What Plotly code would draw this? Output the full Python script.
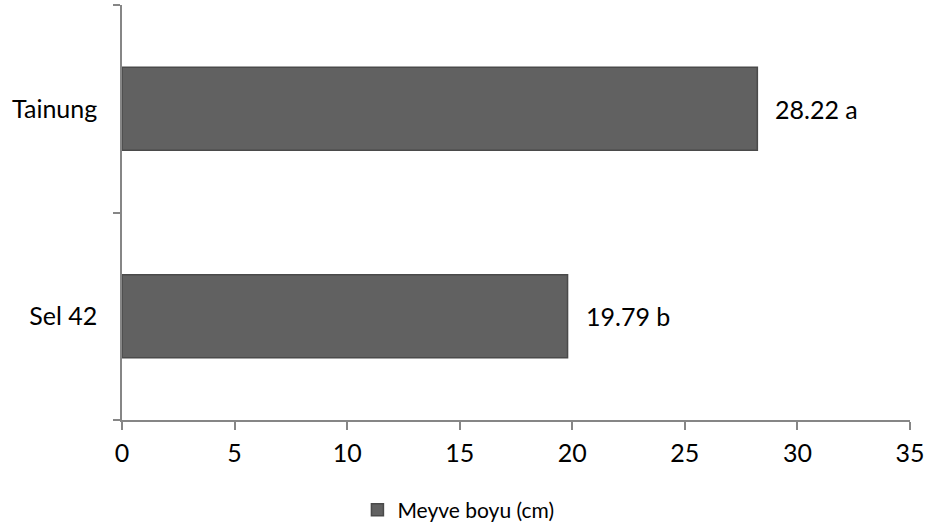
import plotly.graph_objects as go

# Fruit length by cultivar
cultivars = ["Sel 42", "Tainung"]
fruit_length = [19.79, 28.22]
groups = ["b", "a"]
x_ticks = [0, 5, 10, 15, 20, 25, 30, 35]
series_name = "Meyve boyu (cm)"

FONT = "Lato"
FSIZE = 25
AXIS_GREY = "#868686"

fig = go.Figure()
fig.add_trace(go.Bar(
    y=cultivars,
    x=fruit_length,
    orientation="h",
    name=series_name,
    marker=dict(color="#616161", line=dict(color="#4a4a4a", width=1.5)),
    showlegend=True,
))

for c, v, g in zip(cultivars, fruit_length, groups):
    fig.add_annotation(
        x=v, y=c, text=f"{v:.2f} {g}", showarrow=False,
        xanchor="left", xshift=16,
        font=dict(family=FONT, size=FSIZE, color="#000000"),
    )

fig.update_layout(
    width=928, height=528,
    margin=dict(l=122, r=18, t=5, b=108, autoexpand=False),
    plot_bgcolor="white", paper_bgcolor="white",
    bargap=0.6,
    font=dict(family=FONT, size=FSIZE, color="#000000"),
    showlegend=True,
    legend=dict(
        orientation="h", xref="container", x=0.494, xanchor="center",
        yref="container", y=0.034, yanchor="middle",
        font=dict(family=FONT, size=21, color="#000000"),
        itemwidth=30,
    ),
    xaxis=dict(
        range=[0, 35], tickvals=x_ticks, ticks="outside", ticklen=8,
        tickcolor=AXIS_GREY, tickwidth=1.5, automargin=False,
        showline=True, linecolor=AXIS_GREY, linewidth=1.5,
        showgrid=False, zeroline=False, ticklabelstandoff=2,
    ),
    yaxis=dict(
        type="category", categoryorder="array", categoryarray=cultivars,
        range=[-0.5, 1.5], tickson="boundaries", ticks="outside", ticklen=7,
        tickcolor=AXIS_GREY, tickwidth=1.5, automargin=False,
        showline=True, linecolor=AXIS_GREY, linewidth=1.5,
        showgrid=False, zeroline=False, ticklabelstandoff=18,
    ),
)

fig.write_html("out.html")
